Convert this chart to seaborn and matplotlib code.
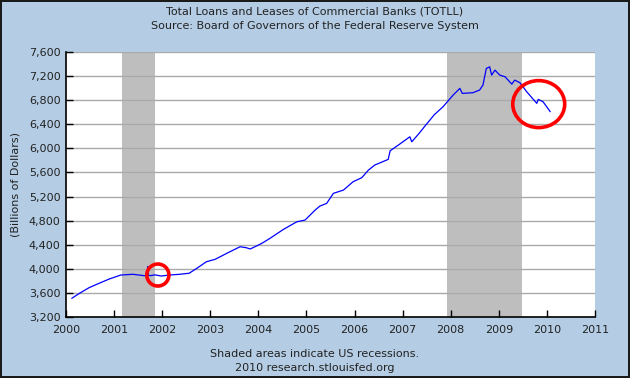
'''Total loans and leases of commercial banks, FRED-style chart'''
import pandas as pd
import seaborn as sns
import matplotlib
matplotlib.use('Agg')
import matplotlib.pyplot as plt
from matplotlib.patches import Ellipse
from matplotlib import ticker

#region data
years = [2000.12, 2000.28, 2000.48, 2000.69, 2000.90, 2001.14, 2001.39, 2001.63, 2001.69,
         2001.70, 2001.71, 2001.75, 2001.85, 2001.98, 2002.15, 2002.36, 2002.56, 2002.72,
         2002.92, 2003.10, 2003.34, 2003.62, 2003.75, 2003.83, 2003.93, 2004.07, 2004.24,
         2004.52, 2004.80, 2004.97, 2005.18, 2005.28, 2005.42, 2005.56, 2005.77, 2005.97,
         2006.15, 2006.29, 2006.42, 2006.70, 2006.74, 2006.91, 2007.15, 2007.19, 2007.33,
         2007.48, 2007.66, 2007.84, 2008.05, 2008.19, 2008.24, 2008.46, 2008.60, 2008.67,
         2008.74, 2008.81, 2008.85, 2008.92, 2009.02, 2009.13, 2009.27, 2009.33, 2009.44,
         2009.58, 2009.79, 2009.82, 2009.92, 2010.07]
values = [3510, 3593, 3687, 3760, 3831, 3897, 3909, 3886, 3890,
          4035, 3895, 3886, 3900, 3880, 3897, 3909, 3926, 4008,
          4118, 4157, 4256, 4367, 4350, 4329, 4367, 4422, 4505,
          4654, 4781, 4809, 4975, 5042, 5086, 5253, 5308, 5446,
          5513, 5640, 5723, 5817, 5960, 6054, 6192, 6109, 6237,
          6386, 6560, 6691, 6885, 6996, 6913, 6924, 6968, 7050,
          7327, 7354, 7216, 7299, 7216, 7189, 7067, 7133, 7089,
          6940, 6747, 6813, 6774, 6608]

recessions = [(2001.16, 2001.85), (2007.92, 2009.48)]
year_ticks = list(range(2000, 2012))
value_ticks = list(range(3200, 7601, 400))
title = 'Total Loans and Leases of Commercial Banks (TOTLL)\nSource: Board of Governors of the Federal Reserve System'
footer = 'Shaded areas indicate US recessions.\n2010 research.stlouisfed.org'
#endregion

BG = '#B4CDE4'

sns.set_theme(style='white')
plt.rcParams['font.family'] = ['DejaVu Sans']

fig = plt.figure(figsize=(6.3, 3.78), dpi=100, facecolor=BG)
fig.patch.set_edgecolor('#1a1a1a')
fig.patch.set_linewidth(1.5)
ax = fig.add_axes([66/630, 1-317/378, (595-66)/630, (317-52)/378])
ax.set_facecolor('white')

for start, end in recessions:
    ax.axvspan(start, end, color='#BEBEBE', lw=0, zorder=1)

df = pd.DataFrame({'year': years, 'value': values})
sns.lineplot(data=df, x='year', y='value', ax=ax, color='#0000FF', lw=0.9, zorder=3)

# red circles
ax.add_patch(Ellipse((2001.91, 3897), 0.46, 365, fill=False, ec='#FF0000', lw=2.6, zorder=4))
ax.add_patch(Ellipse((2009.83, 6735), 1.08, 780, fill=False, ec='#FF0000', lw=2.6, zorder=4))

ax.set_xlim(2000, 2011)
ax.set_ylim(3200, 7600)
ax.set_xticks(year_ticks)
ax.set_yticks(value_ticks)
ax.yaxis.set_major_formatter(ticker.FuncFormatter(lambda v, p: f'{int(v):,}'))
ax.grid(axis='y', color='#AAAAAA', lw=1, zorder=2)
ax.set_axisbelow(False)
for s in ['top', 'right']:
    ax.spines[s].set_visible(False)
for s in ['left', 'bottom']:
    ax.spines[s].set_color('black')
    ax.spines[s].set_linewidth(1.2)
    ax.spines[s].set_zorder(5)
ax.tick_params(axis='both', direction='in', length=5, width=1, color='black',
               labelsize=8, labelcolor='#222222', pad=4,
               bottom=True, left=True)
ax.tick_params(axis='x', pad=6)
ax.set_xlabel('')
ax.set_ylabel('(Billions of Dollars)', fontsize=8, color='#222222', labelpad=6)

fig.text(0.5, 0.95, title, ha='center', va='center', fontsize=8, color='#222222', linespacing=1.5)
fig.text(0.5, 0.045, footer, ha='center', va='center', fontsize=8, color='#222222', linespacing=1.5)

fig.savefig('out.png', dpi=100, facecolor=BG, edgecolor=fig.get_edgecolor())
